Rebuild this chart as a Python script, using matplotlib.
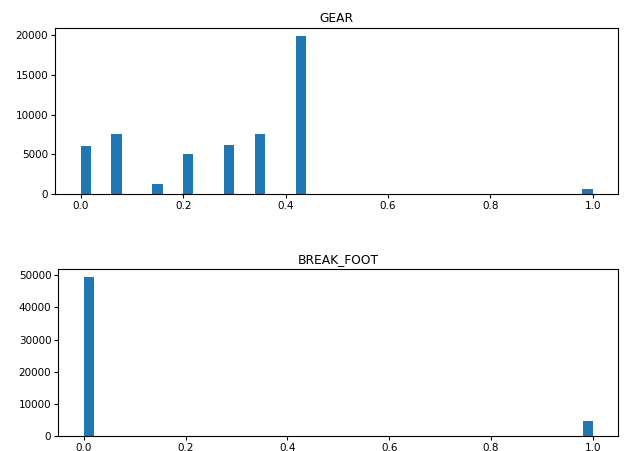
import numpy as np
import matplotlib
matplotlib.use("Agg")
import matplotlib.pyplot as plt

# valeurs distinctes et effectifs
gear_values = [0.0, 1/14, 2/14, 3/14, 4/14, 5/14, 6/14, 1.0]
gear_counts = [6000, 7500, 1300, 5000, 6100, 7600, 19900, 600]

brake_values = [0.0, 1.0]
brake_counts = [49500, 4600]

fig = plt.figure(figsize=(6.27, 4.51), dpi=100)
ax1 = fig.add_axes([0.088, 0.570, 0.898, 0.368])
ax2 = fig.add_axes([0.093, 0.033, 0.893, 0.371])

ax1.hist(gear_values, bins=50, weights=gear_counts, color="#1f77b4")
ax1.set_title("GEAR", fontsize=8.8, pad=4)

ax2.hist(brake_values, bins=50, weights=brake_counts, color="#1f77b4")
ax2.set_title("BREAK_FOOT", fontsize=8.8, pad=4)

for ax in (ax1, ax2):
    ax.tick_params(labelsize=7.5, length=3, pad=2)

fig.savefig("out.png", dpi=100)
